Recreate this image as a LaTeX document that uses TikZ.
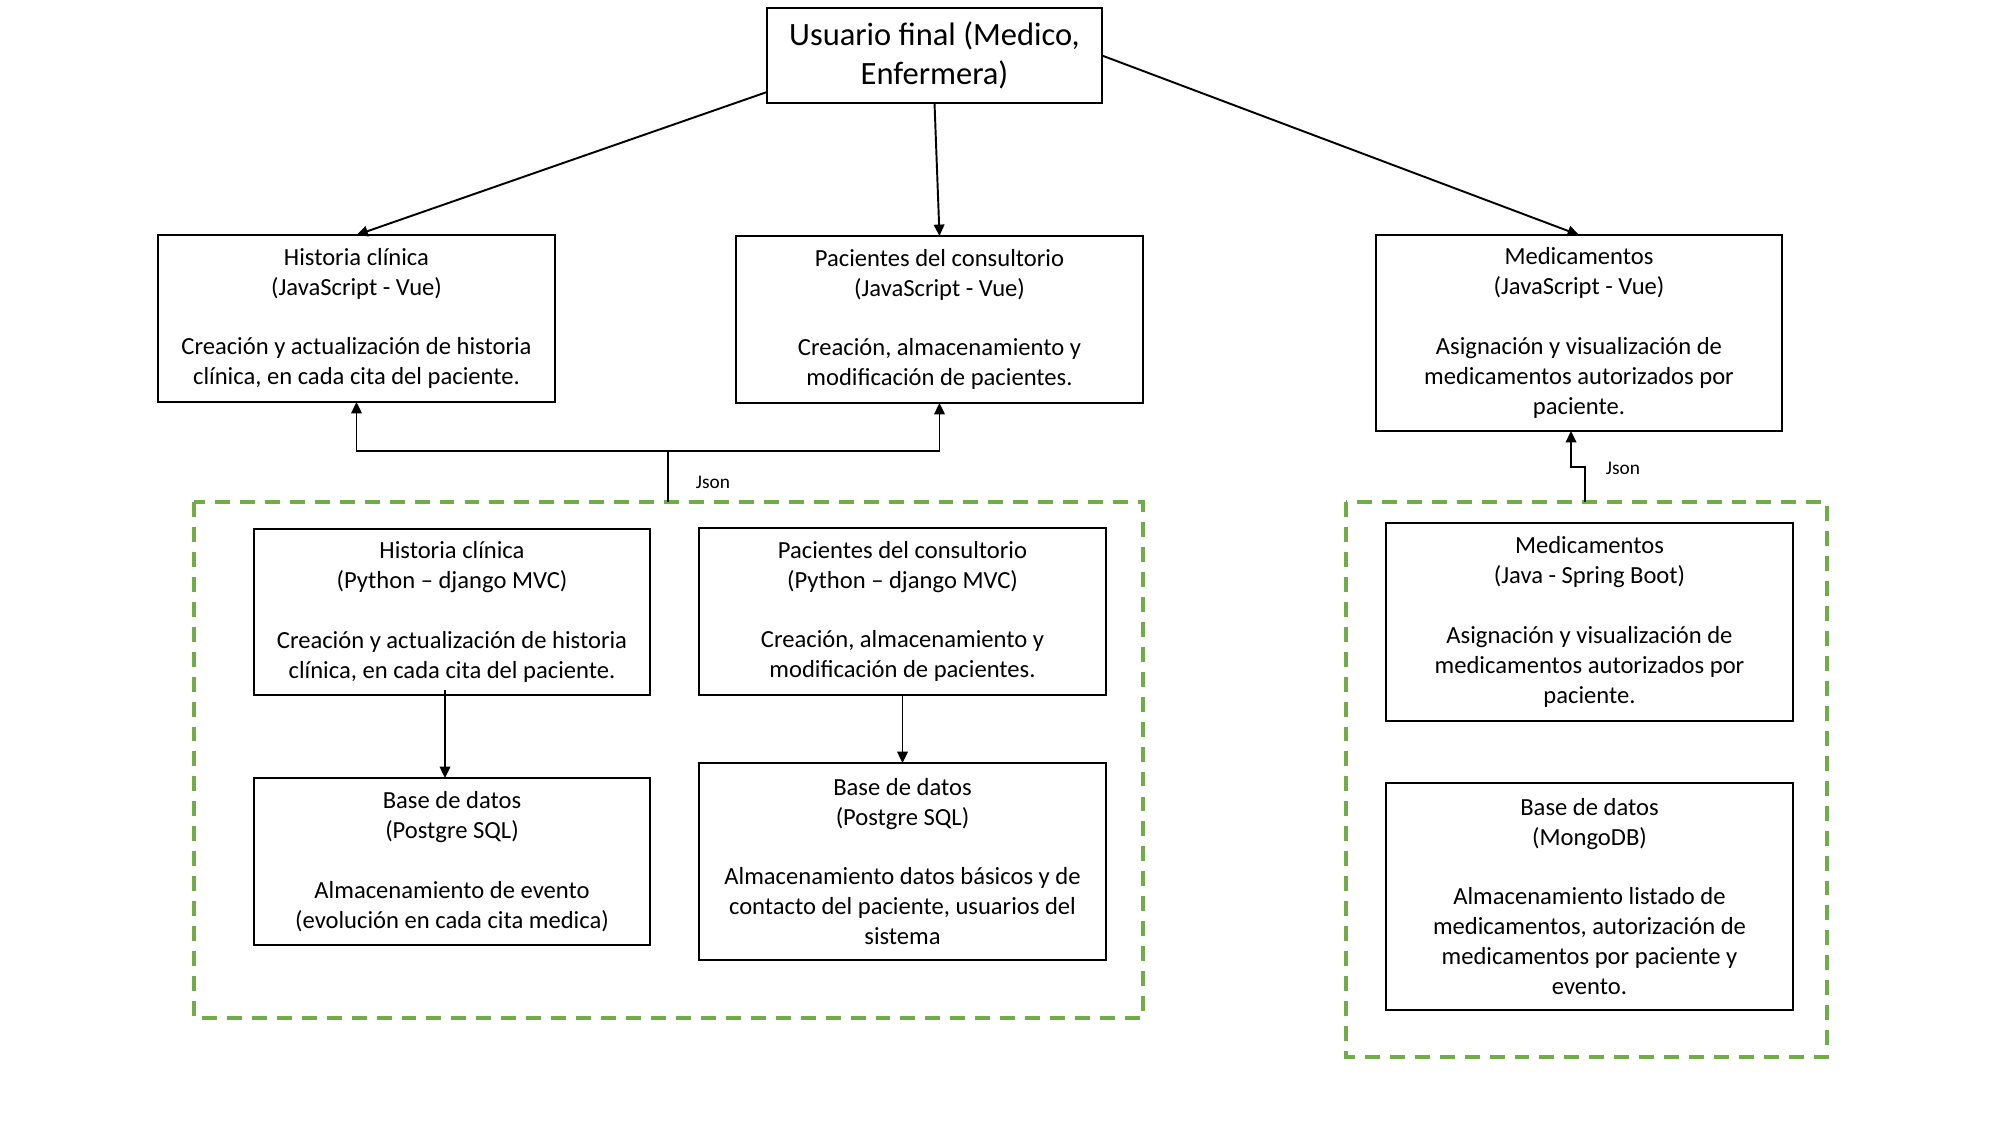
\documentclass[tikz,border=0pt]{standalone}
\usepackage{fontspec}
\setmainfont{Carlito}
\usetikzlibrary{arrows.meta}
\definecolor{grn}{RGB}{112,173,71}
\begin{document}
\begin{tikzpicture}[x=0.02cm,y=-0.02cm,
  boxn/.style={draw=black,line width=1pt,fill=white,inner sep=0pt,outer sep=0pt,align=center,font=\fontsize{14}{17}\selectfont},
  topn/.style={boxn,font=\fontsize{18.5}{22.5}\selectfont},
  arr/.style={draw=black,line width=1.1pt,-{Triangle[length=6.5pt,width=6pt]}},
  grp/.style={draw=grn,line width=2.5pt,dash pattern=on 8.5pt off 5.7pt},
  lbl/.style={font=\fontsize{11}{13}\selectfont,inner sep=0pt}]
\useasboundingbox (0,0) rectangle (2000,1125);
\fill[white] (0,0) rectangle (2000,1125);

% groups
\draw[grp] (194,502) rectangle (1143,1018);
\draw[grp] (1346,502) rectangle (1827,1057);

% nodes
\node[topn,minimum width=6.7cm,minimum height=1.9cm] (top) at (934.5,55.5) {Usuario final (Medico,\\Enfermera)};

\node[boxn,minimum width=7.94cm,minimum height=3.34cm] (hct) at (356.5,318.5)
 {Historia clínica\\(JavaScript - Vue)\\[17pt]Creación y actualización de historia\\clínica, en cada cita del paciente.};
\node[boxn,minimum width=8.14cm,minimum height=3.34cm] (pct) at (939.5,319.5)
 {Pacientes del consultorio\\(JavaScript - Vue)\\[17pt]Creación, almacenamiento y\\modificación de pacientes.};
\node[boxn,minimum width=8.12cm,minimum height=3.92cm] (medt) at (1579,333)
 {Medicamentos\\(JavaScript - Vue)\\[17pt]Asignación y visualización de\\medicamentos autorizados por\\paciente.};

\node[boxn,minimum width=7.92cm,minimum height=3.32cm] (hcp) at (452,612)
 {Historia clínica\\(Python – django MVC)\\[17pt]Creación y actualización de historia\\clínica, en cada cita del paciente.};
\node[boxn,minimum width=8.14cm,minimum height=3.34cm] (pcp) at (902.5,611.5)
 {Pacientes del consultorio\\(Python – django MVC)\\[17pt]Creación, almacenamiento y\\modificación de pacientes.};
\node[boxn,minimum width=7.92cm,minimum height=3.34cm] (bd1) at (452,861.5)
 {Base de datos\\(Postgre SQL)\\[17pt]Almacenamiento de evento\\(evolución en cada cita medica)};
\node[boxn,minimum width=8.14cm,minimum height=3.94cm] (bd2) at (902.5,861.5)
 {Base de datos\\(Postgre SQL)\\[17pt]Almacenamiento datos básicos y de\\contacto del paciente, usuarios del\\sistema};

\node[boxn,minimum width=8.14cm,minimum height=3.96cm] (medj) at (1589.5,622)
 {Medicamentos\\(Java - Spring Boot)\\[17pt]Asignación y visualización de\\medicamentos autorizados por\\paciente.};
\node[boxn,minimum width=8.14cm,minimum height=4.54cm] (mongo) at (1589.5,896.5)
 {Base de datos\\(MongoDB)\\[17pt]Almacenamiento listado de\\medicamentos, autorización de\\medicamentos por paciente y\\evento.};

% top connectors
\draw[arr] ([yshift=-0.73cm]top.west) -- (hct.north);
\draw[arr] (top.south) -- (pct.north);
\draw[arr] (top.east) -- (medt.north);

% Json bus (left)
\coordinate (j1) at (668,502);
\coordinate (jb) at (668,451);
\draw[arr] (j1) -- (jb) -| (hct.south);
\draw[arr] (jb) -| (pct.south);
\node[lbl] (json1) at (713,482) {Json};

% Json (right)
\coordinate (j2) at (1585,502);
\coordinate (j2b) at (1585,467);
\draw[arr] (j2) -- (j2b) -| ([xshift=-0.16cm]medt.south);
\node[lbl] (json2) at (1623,468) {Json};

% inner arrows
\draw[arr] ([xshift=-0.14cm,yshift=0.1cm]hcp.south) -- ([xshift=-0.14cm]bd1.north);
\draw[arr] (pcp.south) -- (bd2.north);
\end{tikzpicture}
\end{document}
